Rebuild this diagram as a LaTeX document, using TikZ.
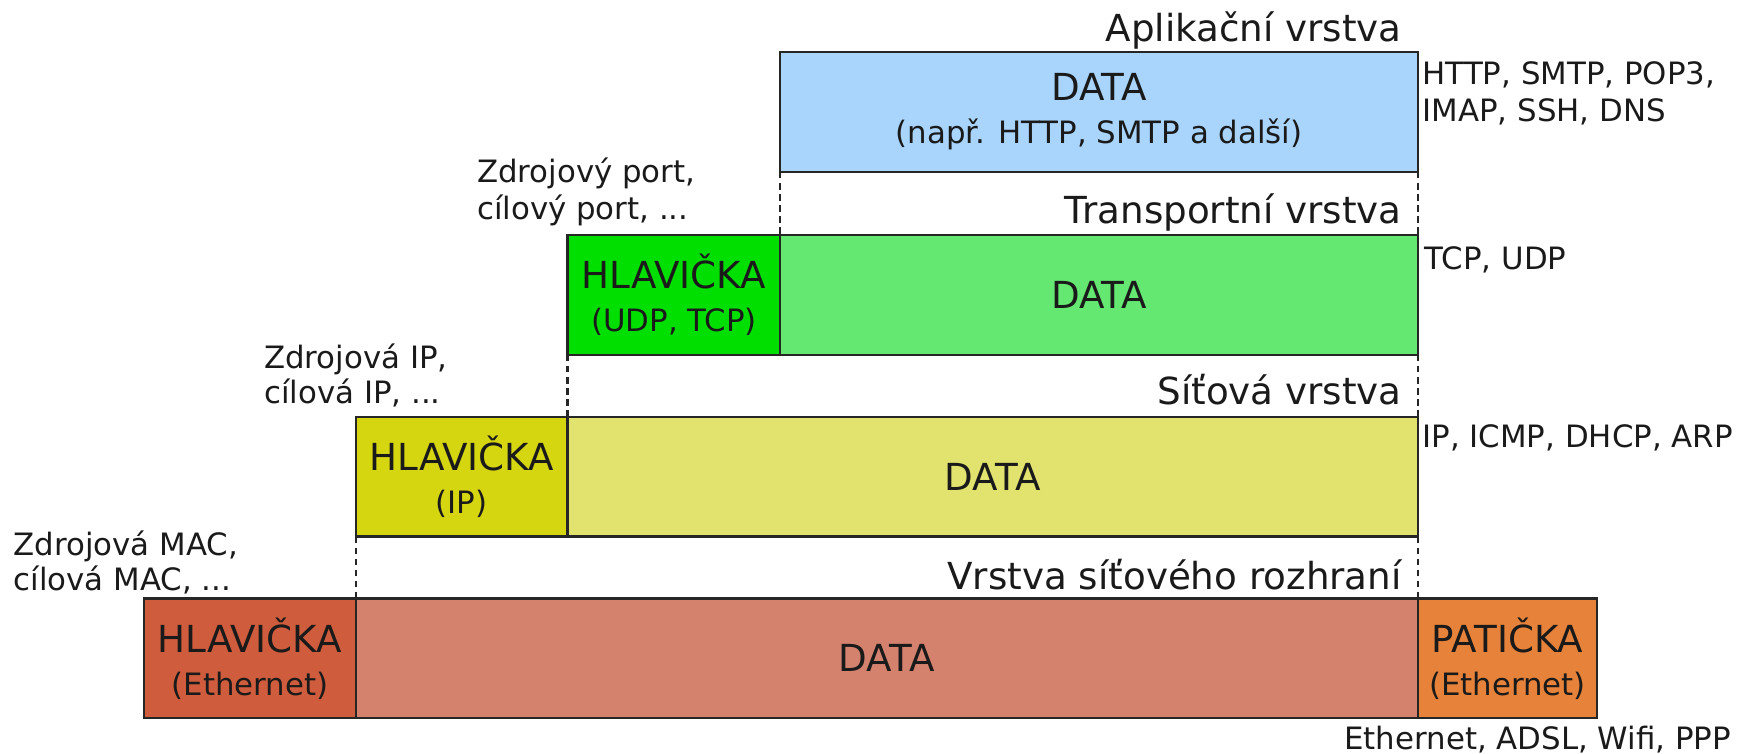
\documentclass[tikz,border=0pt]{standalone}
\usepackage{fontspec}
\setmainfont{DejaVu Sans}
\definecolor{cblue}{HTML}{A9D5FD}
\definecolor{cgreenh}{HTML}{00DF00}
\definecolor{cgreend}{HTML}{64E872}
\definecolor{cyellowh}{HTML}{D5D510}
\definecolor{cyellowd}{HTML}{E2E26E}
\definecolor{credh}{HTML}{CF5C3C}
\definecolor{credd}{HTML}{D4826E}
\definecolor{corange}{HTML}{E6823A}
\definecolor{ctext}{HTML}{1A1A1A}
\newcommand\bigtxt{\fontsize{16.8}{19.5}\selectfont}
\newcommand\smtxt{\fontsize{13.9}{16.5}\selectfont}
\tikzset{
  pbox/.style={draw=black!85, line width=1pt, inner sep=0pt, outer sep=0pt,
    minimum height=54pt, align=center, font=\bigtxt, text=ctext},
  ltitle/.style={anchor=base east, font=\bigtxt, text=ctext, inner sep=0pt},
  proto/.style={anchor=base west, font=\smtxt, text=ctext, inner sep=0pt},
  annot/.style={anchor=base west, font=\smtxt, text=ctext, inner sep=0pt},
  sep/.style={draw=black!85, line width=1pt, dash pattern=on 3pt off 2pt}
}
\begin{document}
\begin{tikzpicture}[x=0.5pt,y=-0.5pt]
\useasboundingbox (0,0) rectangle (1568,680);
% application layer
\node[ltitle] (t1) at (1265,37) {Aplikační vrstva};
\node[pbox, fill=cblue, minimum width=287.5pt] (blue) at (991.5,101)
  {DATA\\{\smtxt (např. HTTP, SMTP a další)}};
\node[proto] (p1a) at (1283,76) {HTTP, SMTP, POP3,};
\node[proto] (p1b) at (1283,110) {IMAP, SSH, DNS};
% transport layer
\node[annot] (a2a) at (430,165) {Zdrojový port,};
\node[annot] (a2b) at (430,198) {cílový port, ...};
\node[ltitle] (t2) at (1265,202) {Transportní vrstva};
\node[pbox, fill=cgreenh, minimum width=96pt] (gh) at (608,266)
  {HLAVIČKA\\{\smtxt (UDP, TCP)}};
\node[pbox, fill=cgreend, minimum width=287.5pt] (gd) at (991.5,266) {DATA};
\node[proto] (p2) at (1285,243) {TCP, UDP};
% network layer
\node[annot] (a3a) at (238,332) {Zdrojová IP,};
\node[annot] (a3b) at (238,364) {cílová IP, ...};
\node[ltitle] (t3) at (1265,365) {Síťová vrstva};
\node[pbox, fill=cyellowh, minimum width=95.5pt] (yh) at (416.5,430)
  {HLAVIČKA\\{\smtxt (IP)}};
\node[pbox, fill=cyellowd, minimum width=383.5pt] (yd) at (895.5,430) {DATA};
\node[proto] (p3) at (1283,404) {IP, ICMP, DHCP, ARP};
% link layer
\node[annot] (a4a) at (12,501) {Zdrojová MAC,};
\node[annot] (a4b) at (12,533) {cílová MAC, ...};
\node[ltitle] (t4) at (1265,532) {Vrstva síťového rozhraní};
\node[pbox, fill=credh, minimum width=95.5pt] (rh) at (225.5,594)
  {HLAVIČKA\\{\smtxt (Ethernet)}};
\node[pbox, fill=credd, minimum width=479pt] (rd) at (800,594) {DATA};
\node[pbox, fill=corange, minimum width=81pt] (rf) at (1360,594)
  {PATIČKA\\{\smtxt (Ethernet)}};
\node[proto, anchor=base east] (p4) at (1562,676) {Ethernet, ADSL, Wifi, PPP};
% dashed separators
\draw[sep] (blue.south west) -- (blue.south west |- gd.north);
\draw[sep] (blue.south east) -- (gd.north east);
\draw[sep] (gh.south west) -- (gh.south west |- yd.north);
\draw[sep] (gd.south east) -- (yd.north east);
\draw[sep] (yh.south west) -- (yh.south west |- rd.north);
\draw[sep] (yd.south east) -- (rd.north east);
\end{tikzpicture}
\end{document}
